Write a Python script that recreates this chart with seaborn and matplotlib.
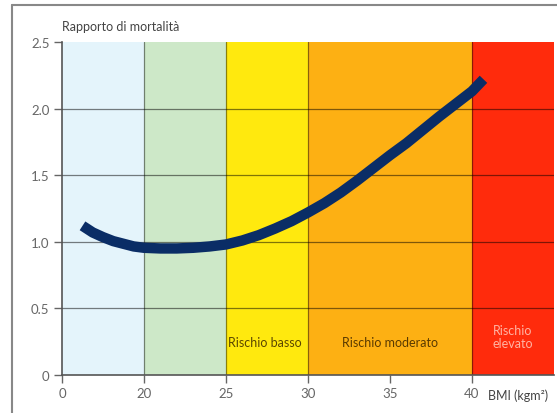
import matplotlib
matplotlib.use('Agg')
import numpy as np
import seaborn as sns
import matplotlib.pyplot as plt
from matplotlib.lines import Line2D

# data
bmi = [5, 7.5, 10, 12.5, 15, 17.5, 20, 21, 22, 23, 24, 25, 26, 27, 28, 29, 30,
       31, 32, 33, 34, 35, 36, 37, 38, 39, 40, 40.7]
mort_ratio = [1.12, 1.07, 1.035, 1.005, 0.985, 0.965, 0.955, 0.95, 0.95, 0.955, 0.965, 0.98,
              1.01, 1.05, 1.10, 1.155, 1.22, 1.29, 1.37, 1.46, 1.555, 1.65, 1.74, 1.84,
              1.94, 2.035, 2.13, 2.22]

band_edges = [0, 20, 25, 30, 40, 45]
band_colors = ["#e4f4fb", "#cde8c8", "#ffe90e", "#fdb013", "#ff2b0c"]
x_ticks = [0, 20, 25, 30, 35, 40]
y_ticks = [0, 0.5, 1.0, 1.5, 2.0, 2.5]
y_tick_labels = ["0", "0.5", "1.0", "1.5", "2.0", "2.5"]
divider_lines = [20, 25, 30, 40]
grid_levels = [0.5, 1.0, 1.5, 2.0]


def fwd(x):
    x = np.asarray(x, dtype=float)
    return np.where(x < 20, x / 20.0, 1 + (x - 20) / 5.0)


def inv(p):
    p = np.asarray(p, dtype=float)
    return np.where(p < 1, p * 20.0, 20 + (p - 1) * 5.0)


sns.set_style("white")
plt.rcParams['font.family'] = ['Lato', 'DejaVu Sans']

fig = plt.figure(figsize=(5.57, 4.14), dpi=100)
ax = fig.add_axes([62 / 557, 38 / 414, 492 / 557, 333 / 414])
ax.set_xscale('function', functions=(fwd, inv))

for lo, hi, c in zip(band_edges[:-1], band_edges[1:], band_colors):
    ax.axvspan(lo, hi, ymin=0, ymax=1, color=c, lw=0, zorder=0)

for v in divider_lines:
    ax.axvline(v, color="#000000", alpha=0.45, lw=0.9, zorder=1)
for h in grid_levels:
    ax.axhline(h, color="#000000", alpha=0.5, lw=0.9, zorder=1)

sns.lineplot(x=bmi, y=mort_ratio, ax=ax, color="#0a2d66", lw=7.5,
             solid_capstyle='butt', solid_joinstyle='round', zorder=3)

ax.set_xlim(0, 45)
ax.set_ylim(0, 2.5)
ax.set_xticks(x_ticks)
ax.set_xticklabels([str(t) for t in x_ticks])
ax.set_yticks(y_ticks)
ax.set_yticklabels(y_tick_labels)
ax.xaxis.set_minor_locator(matplotlib.ticker.NullLocator())
ax.tick_params(axis='both', direction='out', length=6, width=1, color="#666666",
               labelcolor="#666666", labelsize=9.5, pad=3, bottom=True, left=True)

for s in ['top', 'right']:
    ax.spines[s].set_visible(False)
for s in ['left', 'bottom']:
    ax.spines[s].set_color("#555555")
    ax.spines[s].set_linewidth(1.2)
    ax.spines[s].set_zorder(4)

ax.text(25.15, 0.25, "Rischio basso", ha='left', va='center', fontsize=9, color="#5a4600", zorder=5)
ax.text(35, 0.25, "Rischio moderato", ha='center', va='center', fontsize=9, color="#5a3a00", zorder=5)
ax.text(42.5, 0.29, "Rischio\nelevato", ha='center', va='center', fontsize=9, color="#ffb3a3",
        linespacing=1.05, multialignment='center', zorder=5)

fig.text(62 / 557, 1 - 27 / 414, "Rapporto di mortalità", ha='left', va='center',
         fontsize=9, color="#444444")
fig.text(488 / 557, 1 - 396 / 414, "BMI (kgm²)", ha='left', va='center',
         fontsize=9, color="#444444")

# outer frame
fig.add_artist(Line2D([12 / 557, 1], [1 - 6 / 414, 1 - 6 / 414], color="#888888", lw=1.5))
fig.add_artist(Line2D([12 / 557, 12 / 557], [0, 1 - 6 / 414], color="#888888", lw=1.5))

fig.savefig("out.png", dpi=100)
